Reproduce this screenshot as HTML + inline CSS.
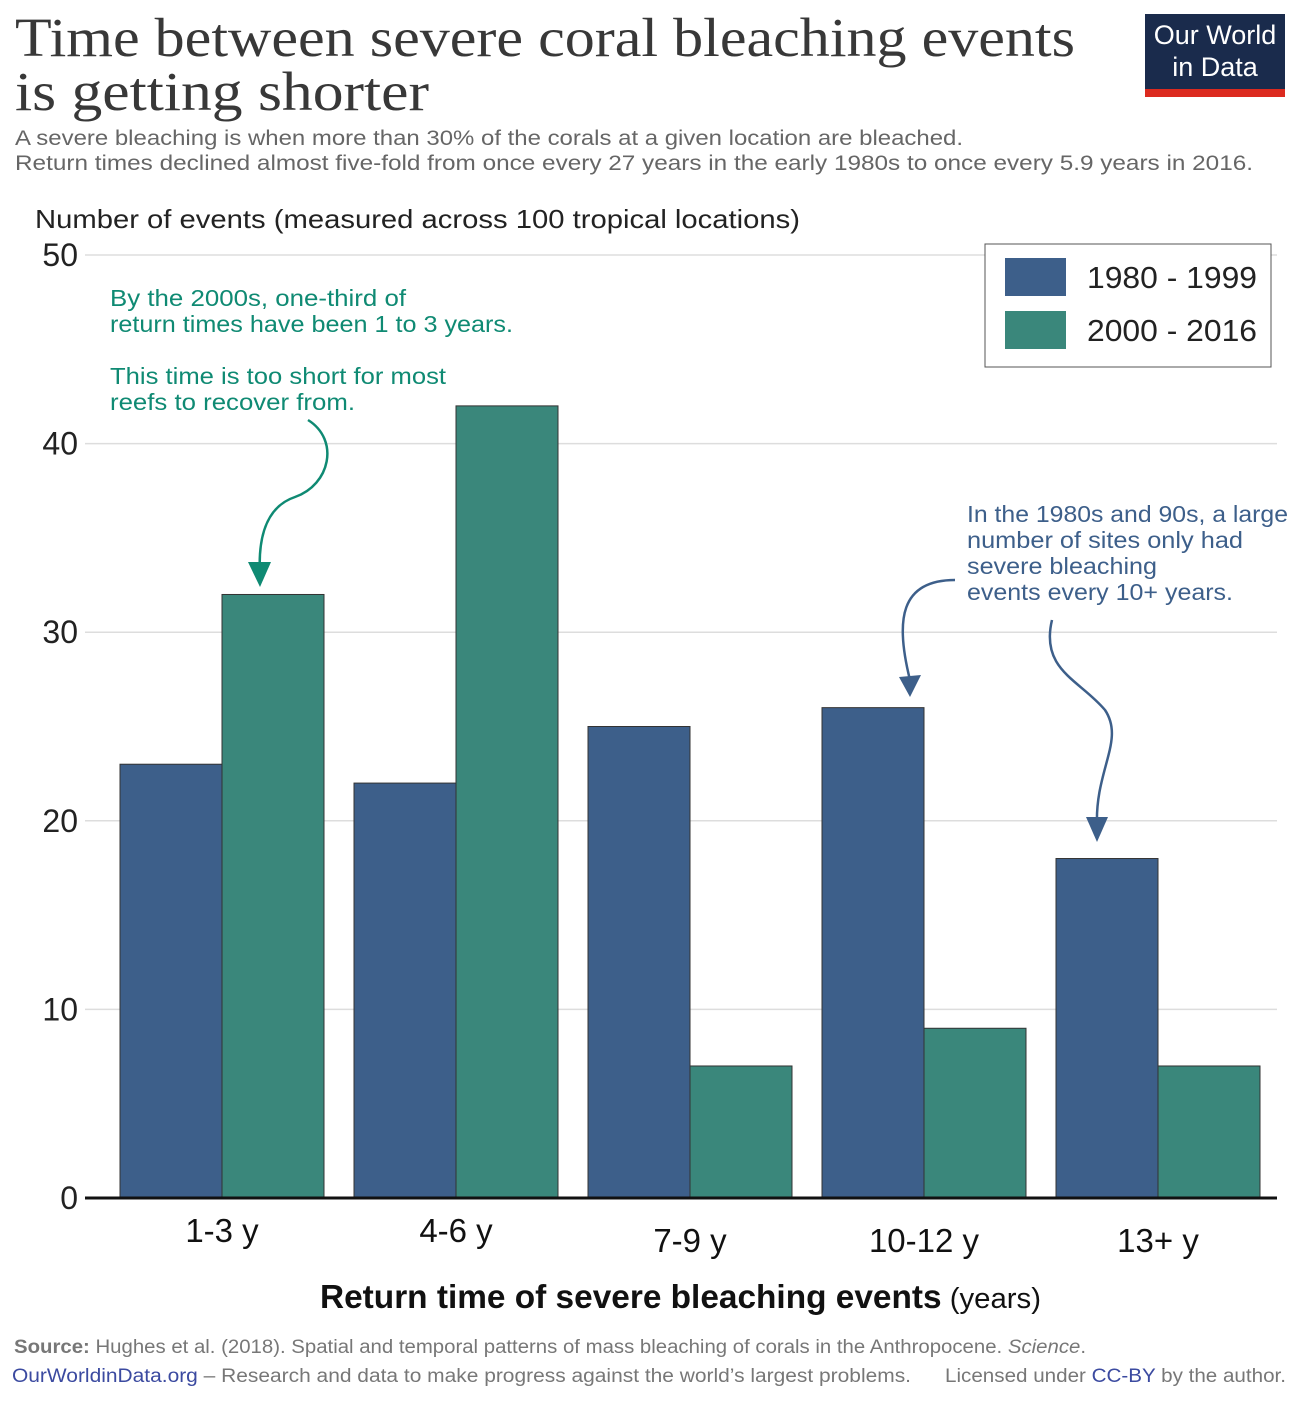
<!DOCTYPE html>
<html><head><meta charset="utf-8">
<style>
body{margin:0;background:#fff;width:1296px;height:1399px;overflow:hidden;font-family:"Liberation Sans",sans-serif;}
svg text{font-family:"Liberation Sans",sans-serif;}
</style></head>
<body>
<svg width="1296" height="1399" xmlns="http://www.w3.org/2000/svg" id="chart">
<text x="15" y="56" font-size="55" fill="#383838" textLength="1060" lengthAdjust="spacingAndGlyphs" style="font-family:'Liberation Serif',serif">Time between severe coral bleaching events</text>
<text x="15" y="110" font-size="55" fill="#383838" textLength="414" lengthAdjust="spacingAndGlyphs" style="font-family:'Liberation Serif',serif">is getting shorter</text>
<g>
<rect x="1145" y="14" width="140" height="76" fill="#1a2b4c"/>
<rect x="1145" y="89" width="140" height="8" fill="#dc2a1f"/>
<text x="1215" y="44" font-size="27" fill="#fff" text-anchor="middle">Our World</text>
<text x="1215" y="76" font-size="27" fill="#fff" text-anchor="middle">in Data</text>
</g>
<text x="15" y="145" font-size="21" fill="#666" textLength="948" lengthAdjust="spacingAndGlyphs">A severe bleaching is when more than 30% of the corals at a given location are bleached.</text>
<text x="15" y="170" font-size="21" fill="#666" textLength="1238" lengthAdjust="spacingAndGlyphs">Return times declined almost five-fold from once every 27 years in the early 1980s to once every 5.9 years in 2016.</text>
<text x="35" y="228" font-size="26" fill="#222" textLength="765" lengthAdjust="spacingAndGlyphs">Number of events (measured across 100 tropical locations)</text>
<g id="grid"></g>
<g id="bars"></g>
<g id="xlabels"></g>
<g>
<rect x="985" y="244" width="286" height="123" fill="#fff" stroke="#555" stroke-width="1"/>
<rect x="1005" y="258" width="61" height="38" fill="#3d5f8a"/>
<text x="1087" y="288" font-size="31" fill="#222" textLength="170" lengthAdjust="spacingAndGlyphs">1980 - 1999</text>
<rect x="1005" y="311" width="61" height="38" fill="#3a877b"/>
<text x="1087" y="341" font-size="31" fill="#222" textLength="170" lengthAdjust="spacingAndGlyphs">2000 - 2016</text>
</g>
<g fill="#0f8a73" font-size="23">
<text x="110" y="306" textLength="296" lengthAdjust="spacingAndGlyphs">By the 2000s, one-third of</text>
<text x="110" y="332" textLength="403" lengthAdjust="spacingAndGlyphs">return times have been 1 to 3 years.</text>
<text x="110" y="384" textLength="336" lengthAdjust="spacingAndGlyphs">This time is too short for most</text>
<text x="110" y="410" textLength="245" lengthAdjust="spacingAndGlyphs">reefs to recover from.</text>
</g>
<path d="M308 420 C340 440 330 485 295 497 C265 507 258 540 260 575" fill="none" stroke="#0f8a73" stroke-width="2.5"/>
<path d="M248 562 L260 587 L271 562 Z" fill="#0f8a73"/>
<g fill="#3d5f8a" font-size="23">
<text x="967" y="522" textLength="321" lengthAdjust="spacingAndGlyphs">In the 1980s and 90s, a large</text>
<text x="967" y="548" textLength="276" lengthAdjust="spacingAndGlyphs">number of sites only had</text>
<text x="967" y="574" textLength="190" lengthAdjust="spacingAndGlyphs">severe bleaching</text>
<text x="967" y="600" textLength="266" lengthAdjust="spacingAndGlyphs">events every 10+ years.</text>
</g>
<path d="M955 580 C900 580 895 620 910 680" fill="none" stroke="#3d5f8a" stroke-width="2.5"/>
<path d="M899 677 L910 697 L921 675 Z" fill="#3d5f8a"/>
<path d="M1052 620 C1040 670 1080 680 1105 710 C1125 740 1095 770 1097 825" fill="none" stroke="#3d5f8a" stroke-width="2.5"/>
<path d="M1086 817 L1097 842 L1108 817 Z" fill="#3d5f8a"/>
<text x="320" y="1308" font-size="33" fill="#111" textLength="721" lengthAdjust="spacingAndGlyphs"><tspan font-weight="bold">Return time of severe bleaching events</tspan><tspan font-size="29"> (years)</tspan></text>
<text x="14" y="1353" font-size="19" fill="#777" textLength="1072" lengthAdjust="spacingAndGlyphs"><tspan font-weight="bold">Source:</tspan> Hughes et al. (2018). Spatial and temporal patterns of mass bleaching of corals in the Anthropocene. <tspan font-style="italic">Science</tspan>.</text>
<text x="12" y="1382" font-size="19" fill="#777" textLength="899" lengthAdjust="spacingAndGlyphs"><tspan fill="#3b4aa0">OurWorldinData.org</tspan> – Research and data to make progress against the world’s largest problems.</text>
<text x="945" y="1382" font-size="19" fill="#777" textLength="341" lengthAdjust="spacingAndGlyphs">Licensed under <tspan fill="#3b4aa0">CC-BY</tspan> by the author.</text>
</svg>
<script>
const categories = ["1-3 y","4-6 y","7-9 y","10-12 y","13+ y"];
const series1980 = [23,22,25,26,18];
const series2000 = [32,42,7,9,7];
const yTicks = [0,10,20,30,40,50];
const labelOffsets = [0,0,10,10,10];
const NS="http://www.w3.org/2000/svg";
const y0=1198, yTop=255, yMax=50;
function yScale(v){return y0-(y0-yTop)*v/yMax;}
const groupStart=120, groupStep=234, barW=102;
function xScale(i){return groupStart+i*groupStep;}
function mk(tag,attrs,parent){const e=document.createElementNS(NS,tag);for(const k in attrs)e.setAttribute(k,attrs[k]);parent.appendChild(e);return e;}
const grid=document.getElementById('grid');
yTicks.forEach(t=>{
  const y=yScale(t);
  if(t>0){const l=mk('line',{x1:85,x2:1277,y1:y,y2:y,stroke:'#ddd','stroke-width':1.5},grid);
  
  }
  const tx=mk('text',{x:78,y:y+11,'font-size':32,fill:'#222','text-anchor':'end'},grid);
  tx.textContent=t;
  
  
});
const bars=document.getElementById('bars');
categories.forEach((c,i)=>{
  const x=xScale(i);
  const b1=mk('rect',{x:x,y:yScale(series1980[i]),width:barW,height:y0-yScale(series1980[i]),fill:'#3d5f8a',stroke:'#333','stroke-width':1},bars);
  
  
  const b2=mk('rect',{x:x+barW,y:yScale(series2000[i]),width:barW,height:y0-yScale(series2000[i]),fill:'#3a877b',stroke:'#333','stroke-width':1},bars);
  
  
  const t=mk('text',{x:x+barW,y:1242+labelOffsets[i],'font-size':33,fill:'#111','text-anchor':'middle'},document.getElementById('xlabels'));
  t.textContent=c;
  
  
});
const ax=mk('line',{x1:85,x2:1277,y1:y0,y2:y0,stroke:'#111','stroke-width':3},bars);


</script>
</body></html>
